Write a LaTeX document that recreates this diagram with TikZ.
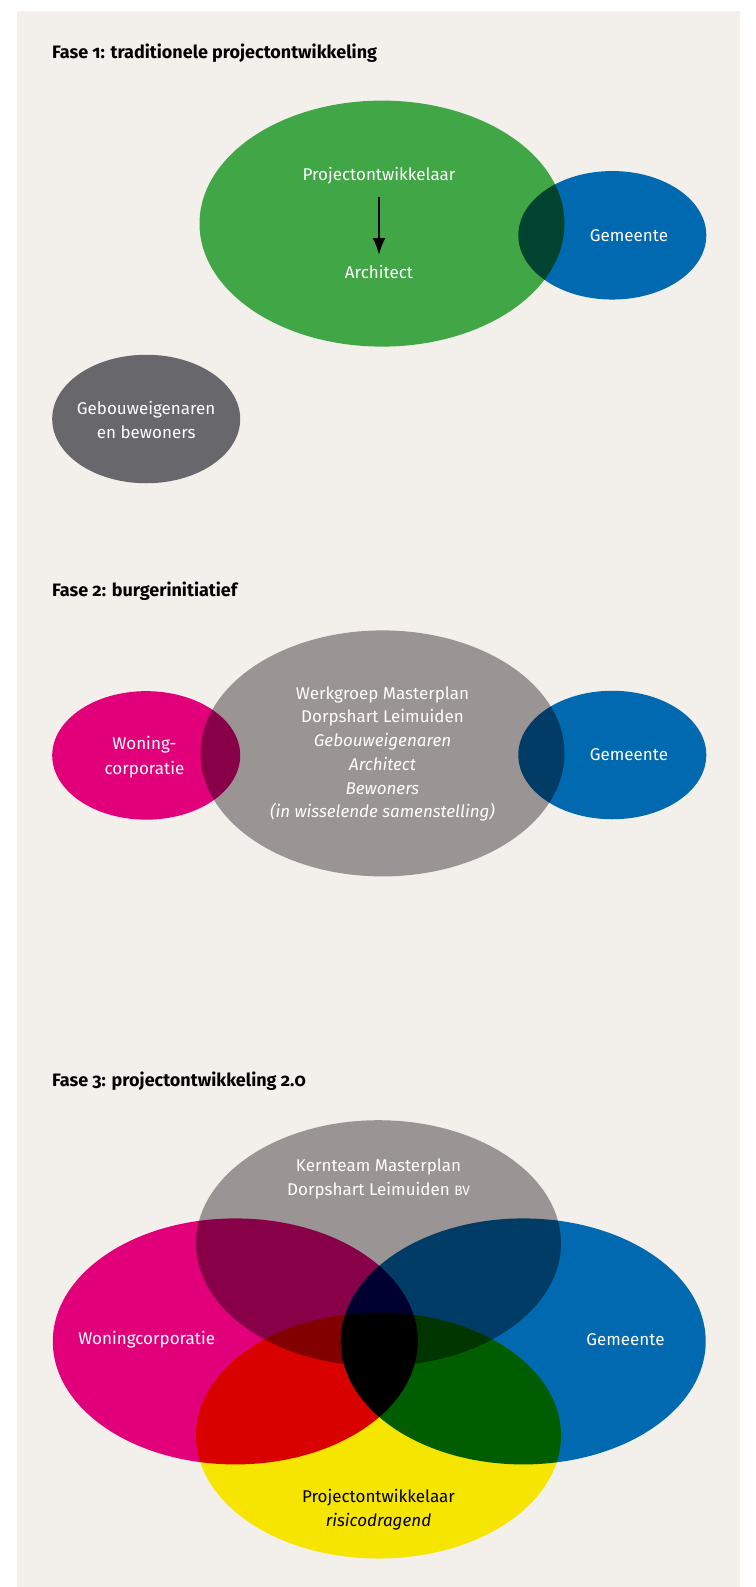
\documentclass[tikz,border=0pt]{standalone}
\usepackage{fontspec}
\setmainfont{Fira Sans}
\newfontfamily\titlefont{Fira Sans}[Numbers=OldStyle]
\usetikzlibrary{shapes.geometric,arrows.meta}
\definecolor{cpanel}{HTML}{F3F0EB}
\definecolor{cgreen}{HTML}{40A646}
\definecolor{cblue}{HTML}{0069AF}
\definecolor{cdgray}{HTML}{68676B}
\definecolor{cgray}{HTML}{9A9495}
\definecolor{cmag}{HTML}{E2007A}
\definecolor{cyel}{HTML}{F5E500}
\newcommand{\bodyfont}{\fontsize{17}{23.7}\selectfont}
\tikzset{
  blob/.style={ellipse, inner sep=0pt, draw=none},
  big/.style={minimum width=365pt, minimum height=246pt},
  small/.style={minimum width=188pt, minimum height=128.5pt},
  lbl/.style={text=white, font=\bodyfont, align=center, inner sep=0pt},
  ttl/.style={anchor=west, font=\titlefont\bfseries\fontsize{18}{21}\selectfont, inner sep=0pt, text=black},
  arr/.style={-{Latex[length=17pt,width=13pt]}, line width=2.3pt, black}
}
\begin{document}
\begin{tikzpicture}[x=1pt,y=-1pt]
\useasboundingbox (0,0) rectangle (755,1587);
\fill[white] (0,0) rectangle (755,1587);
\fill[cpanel] (17,11) rectangle (740,1587);

% ---------- Fase 1 ----------
\node[ttl] (t1) at (52,53) {Fase 1: traditionele projectontwikkeling};
\begin{scope}[transparency group]
\begin{scope}[blend mode=multiply]
\node[blob, big, fill=cgreen] (f1pro) at (382,223.6) {};
\node[blob, small, fill=cblue] (f1gem) at (612.3,235.3) {};
\end{scope}
\end{scope}
\node[blob, small, fill=cdgray] (f1geb) at (146.2,419) {};
\node[lbl] (p1) at (379,176) {Projectontwikkelaar};
\node[lbl] (a1) at (379,272) {Architect};
\node[lbl] (g1) at (629,235.3) {Gemeente};
\node[lbl] (b1) at (146.2,420) {Gebouweigenaren\\en bewoners};
\draw[arr, shorten <=21pt, shorten >=17pt] (p1.center) -- (a1.center);

% ---------- Fase 2 ----------
\node[ttl] (t2) at (52,591) {Fase 2: burgerinitiatief};
\begin{scope}[transparency group]
\begin{scope}[blend mode=multiply]
\node[blob, minimum width=364pt, minimum height=246pt, fill=cgray] (f2wg) at (382.5,753.4) {};
\node[blob, small, fill=cmag] (f2won) at (146.2,755.4) {};
\node[blob, small, fill=cblue] (f2gem) at (612.3,755) {};
\end{scope}
\end{scope}
\node[lbl] (w2) at (382.5,754) {Werkgroep Masterplan\\Dorpshart Leimuiden\\\itshape Gebouweigenaren\\\itshape Architect\\\itshape Bewoners\\\itshape (in wisselende samenstelling)};
\node[lbl, font=\fontsize{17}{25}\selectfont] (c2) at (144.5,757) {Woning-\\corporatie};
\node[lbl] (g2) at (629,755) {Gemeente};

% ---------- Fase 3 ----------
\node[ttl] (t3) at (52,1081) {Fase 3: projectontwikkeling 2.0};
\begin{scope}[transparency group]
\begin{scope}[blend mode=multiply]
\node[blob, big, fill=cgray] (f3kern) at (378.5,1243.2) {};
\node[blob, big, fill=cmag] (f3won) at (235.3,1341.4) {};
\node[blob, big, fill=cblue] (f3gem) at (523.2,1341.4) {};
\node[blob, big, fill=cyel] (f3pro) at (378.5,1435.5) {};
\end{scope}
\end{scope}
\node[lbl] (k3) at (378.5,1179) {Kernteam Masterplan\\Dorpshart Leimuiden {\fontsize{13.5}{13.5}\selectfont BV}};
\node[lbl] (c3) at (146.7,1340) {Woningcorporatie};
\node[lbl] (g3) at (625.4,1340) {Gemeente};
\node[lbl, text=black] (p3) at (378.5,1510) {Projectontwikkelaar\\\itshape risicodragend};
\end{tikzpicture}
\end{document}
